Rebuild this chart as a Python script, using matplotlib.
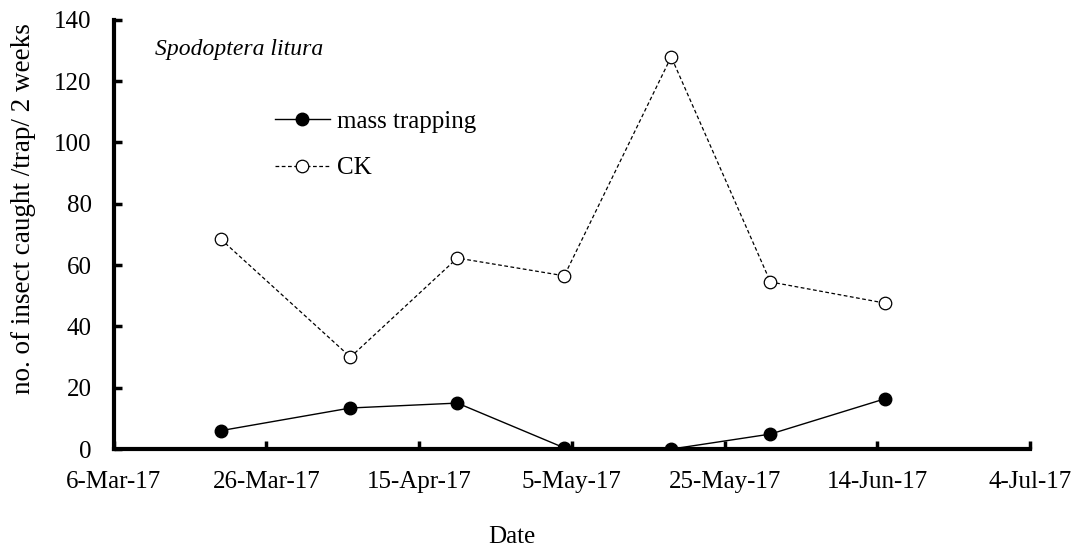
import matplotlib
matplotlib.use("Agg")
import matplotlib.pyplot as plt
import matplotlib.dates as mdates
import pandas as pd

# sampling dates and catches per trap per 2 weeks
dates = pd.to_datetime(["2017-03-20", "2017-04-06", "2017-04-20", "2017-05-04",
                        "2017-05-18", "2017-05-31", "2017-06-15"])
mass_trapping = [6.0, 13.4, 15.0, 0.4, 0.0, 4.9, 16.4]
ck = [68.5, 30.0, 62.3, 56.5, 127.9, 54.5, 47.6]

tick_dates = pd.date_range("2017-03-06", "2017-07-04", freq="20D")

plt.rcParams["font.family"] = ["Liberation Serif", "DejaVu Serif"]

fig = plt.figure(figsize=(10.73, 5.49), dpi=100)
ax = fig.add_axes([0.106, 0.182, 0.854, 0.782])

ax.plot(dates, mass_trapping, color="black", lw=1, marker="o", ms=9,
        mfc="black", mec="black", label="mass trapping")
ax.plot(dates, ck, color="black", lw=0.9, ls=(0, (3, 2)), marker="o", ms=9,
        mfc="white", mec="black", mew=0.9, label="CK")

ax.set_xlim(tick_dates[0], tick_dates[-1])
ax.set_ylim(0, 140)
ax.set_xticks(tick_dates)
ax.xaxis.set_major_formatter(mdates.DateFormatter("%-d-%b-%y"))
ax.set_yticks(range(0, 141, 20))

for s in ["top", "right"]:
    ax.spines[s].set_visible(False)
for s in ["left", "bottom"]:
    ax.spines[s].set_linewidth(3)
ax.tick_params(axis="both", direction="in", length=6, width=2.5, labelsize=18)
ax.tick_params(axis="x", pad=16)
ax.tick_params(axis="y", pad=16)

ax.set_xlabel("Date", fontsize=18)
ax.xaxis.set_label_coords(0.434, -0.178)
ax.set_ylabel("no. of insect caught /trap/ 2 weeks", fontsize=19.5)
ax.yaxis.set_label_coords(-0.085, 0.56)

ax.text(0.045, 0.955, "Spodoptera litura", transform=ax.transAxes,
        fontsize=17, style="italic", va="top")

ax.legend(loc="upper left", bbox_to_anchor=(0.151, 0.842), frameon=False,
          fontsize=18, handlelength=2.2, handletextpad=0.3, labelspacing=0.97)

fig.savefig("out.png", dpi=100)
